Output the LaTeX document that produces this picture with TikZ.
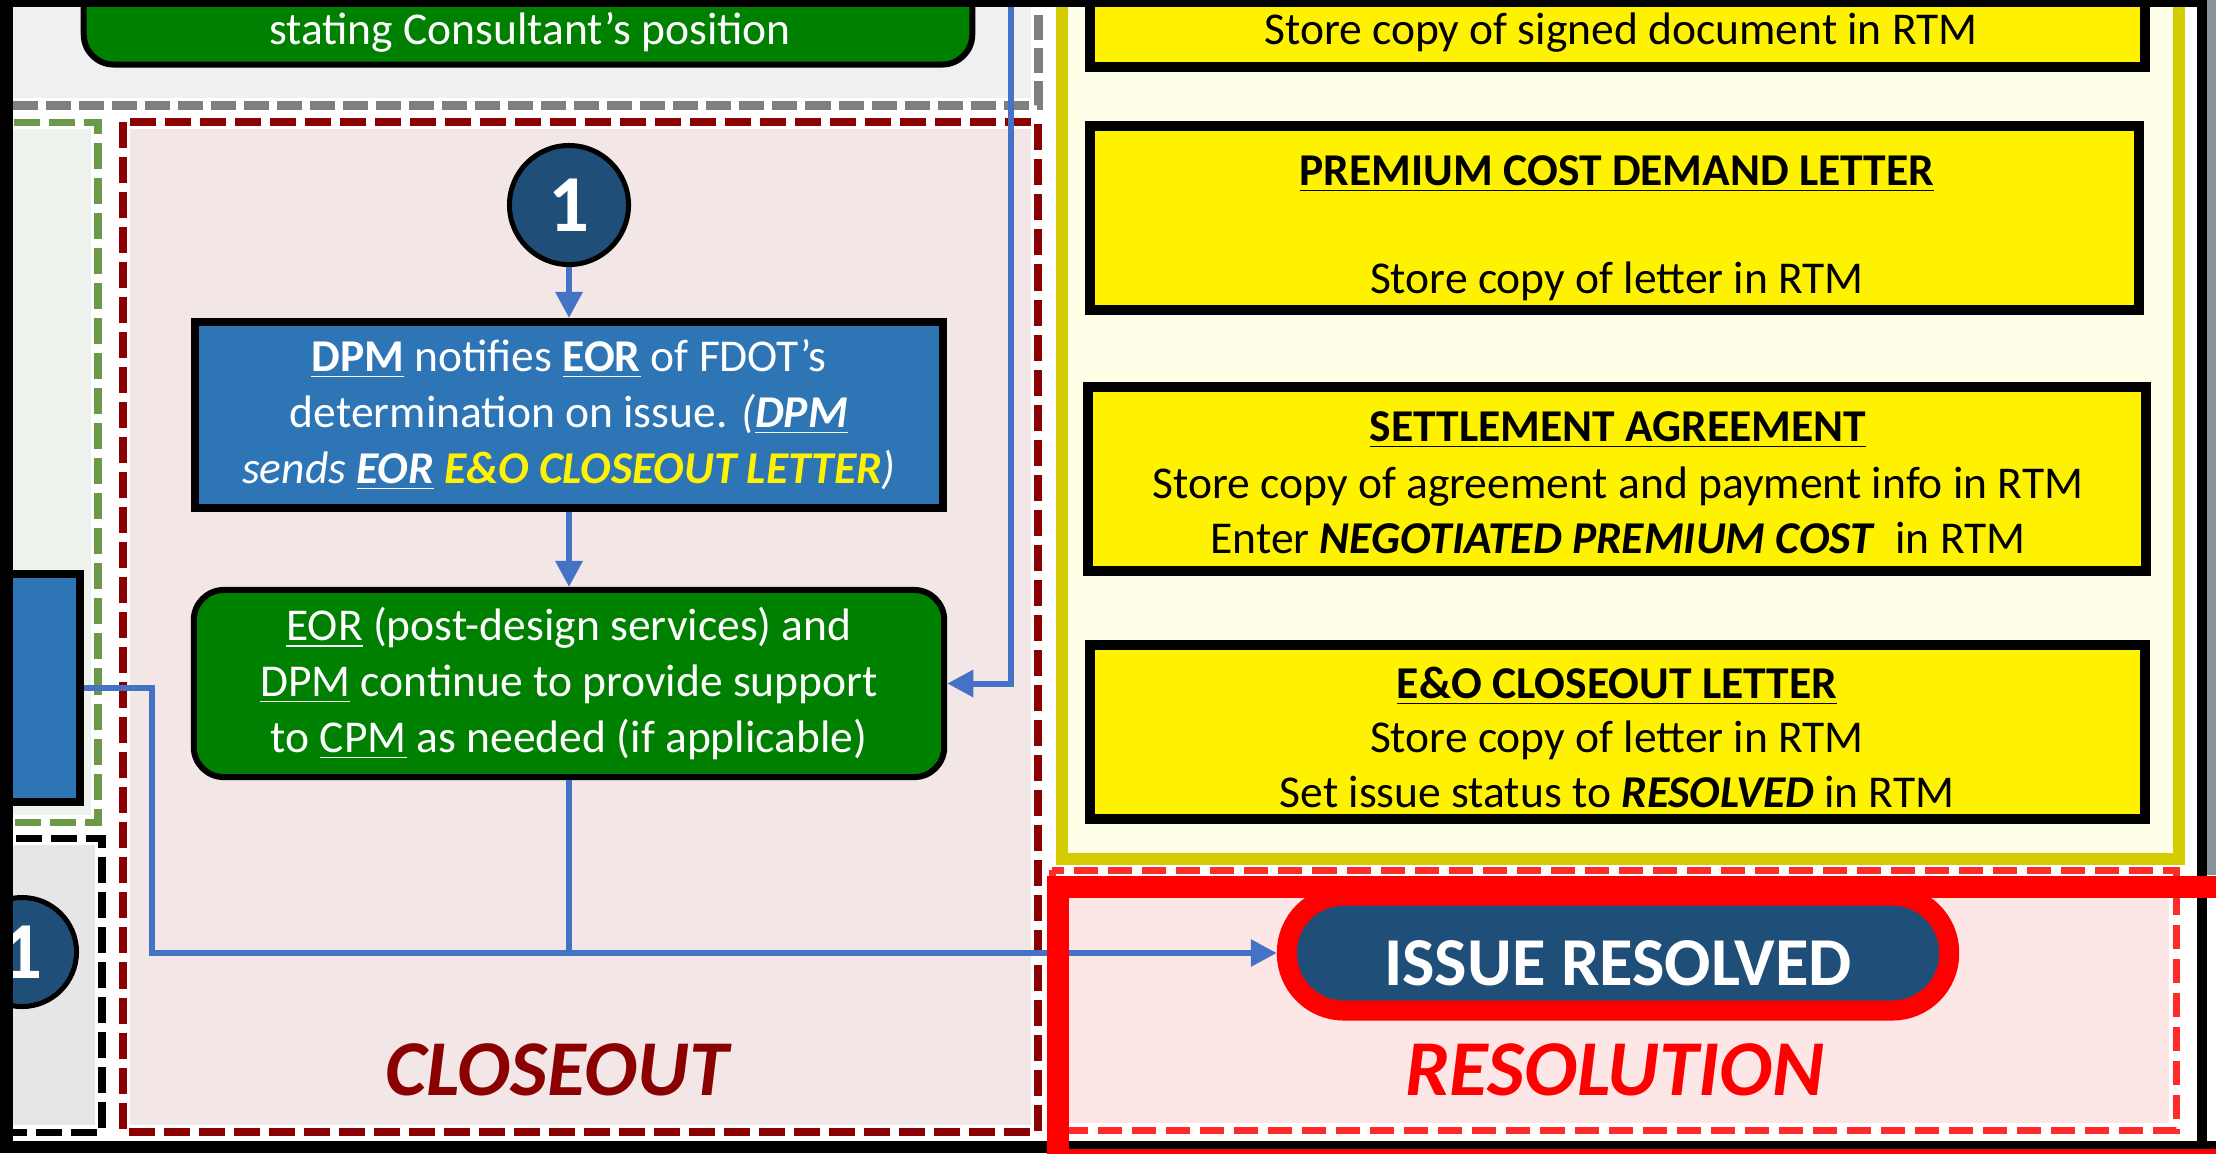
\documentclass[tikz,border=0pt]{standalone}
\usepackage{fontspec}
\setmainfont{Carlito}
\usetikzlibrary{arrows.meta}

\definecolor{flowblue}{HTML}{4472C4}
\definecolor{boxblue}{HTML}{2E75B6}
\definecolor{navy}{HTML}{1F4E79}
\definecolor{okgreen}{HTML}{008000}
\definecolor{darkred}{HTML}{8B0000}
\definecolor{closebg}{HTML}{F2E6E6}
\definecolor{resbg}{HTML}{FDE6E6}
\definecolor{greenbg}{HTML}{EEF2EC}
\definecolor{topbg}{HTML}{F0F0F0}
\definecolor{graybg}{HTML}{E6E6E6}
\definecolor{panelbg}{HTML}{FFFFE8}
\definecolor{panelline}{HTML}{D4CC00}
\definecolor{dashgreen}{HTML}{6A9A48}
\definecolor{dashgray}{HTML}{7F7F7F}
\definecolor{resred}{HTML}{FF2A2A}
\definecolor{edgegray}{HTML}{8A9399}

\tikzset{
  bodyfont/.style={font=\fontsize{12.95}{15.9}\selectfont},
  flow/.style={draw=flowblue, line width=0.06cm},
  flowarrow/.style={flow, -{Triangle[length=0.26cm,width=0.26cm]}},
  whiteunder/.style={draw=white, line width=0.14cm},
  closeframe/.style={draw=darkred, line width=0.08cm, dash pattern=on 0.26cm off 0.09cm},
  greenframe/.style={draw=dashgreen, line width=0.07cm, dash pattern=on 0.26cm off 0.09cm},
  blackframe/.style={draw=black, line width=0.07cm, dash pattern=on 0.26cm off 0.09cm},
  grayframe/.style={draw=dashgray, line width=0.09cm, dash pattern=on 0.25cm off 0.08cm},
  resframe/.style={draw=resred, line width=0.07cm, dash pattern=on 0.24cm off 0.1cm},
  numcircle/.style={circle, draw=black, line width=0.05cm, fill=navy, text=white,
    font=\fontsize{23}{23}\selectfont\bfseries, inner sep=0pt},
  actionbox/.style={rectangle, draw=black, line width=0.08cm, fill=boxblue, text=white,
    align=center, inner sep=0pt, bodyfont},
  supportbox/.style={rectangle, rounded corners=0.3cm, draw=black, line width=0.06cm,
    fill=okgreen, text=white, align=center, inner sep=0pt, bodyfont},
  letterbox/.style={rectangle, draw=black, line width=0.1cm, fill=yellow, inner sep=0pt},
  lettertext/.style={bodyfont, anchor=base, text=black, inner sep=0pt},
  phase/.style={font=\fontsize{22.5}{27}\selectfont\bfseries\itshape, anchor=base, inner sep=0pt},
  pill/.style={rectangle, rounded corners=0.57cm, draw=red, line width=0.2cm, fill=navy,
    text=white, font=\fontsize{19.5}{20}\selectfont\bfseries,
    minimum width=6.62cm, minimum height=1.15cm, inner sep=0pt},
}

\begin{document}
\begin{tikzpicture}[x=0.01cm, y=-0.01cm]
  \useasboundingbox (0,0) rectangle (2216,1153);
  \clip (0,0) rectangle (2216,1153);
  \fill[white] (0,0) rectangle (2216,1153);

  % region backgrounds
  \fill[topbg] (0,-20) rectangle (1038,105);
  \fill[greenbg] (-20,122) rectangle (98,822);
  \fill[graybg] (-20,838) rectangle (102,1132);
  \fill[closebg] (123,122) rectangle (1038,1132);
  \fill[resbg] (1052,870) rectangle (2176,1130);

  % dashed region frames
  \draw[whiteunder] (-20,105) -- (1038,105) -- (1038,-20);
  \draw[grayframe] (-20,105) -- (1038,105) -- (1038,-20);
  \draw[whiteunder] (-20,122) rectangle (98,822);
  \draw[greenframe] (-20,122) rectangle (98,822);
  \draw[whiteunder] (-20,838) rectangle (102,1132);
  \draw[blackframe] (-20,838) rectangle (102,1132);
  \draw[whiteunder] (123,122) rectangle (1038,1132);
  \draw[closeframe] (123,122) rectangle (1038,1132);
  \draw[whiteunder] (1052,870) rectangle (2176,1130);
  \draw[resframe] (1052,870) rectangle (2176,1130);

  % document panel
  \draw[panelline, fill=panelbg, line width=0.12cm] (1062,-30) rectangle (2179,859);

  % document boxes
  \node[letterbox, minimum width=10.55cm, minimum height=1.17cm] (docsigned) at (1617.5,8.5) {};
  \node[lettertext] (docsignedtxt) at (1621,44) {Store copy of signed document in RTM};

  \node[letterbox, minimum width=10.49cm, minimum height=1.84cm] (demand) at (1614.5,218) {};
  \node[lettertext] (demandttl) at (1617,185) {\bfseries\underline{PREMIUM COST DEMAND LETTER}};
  \node[lettertext] (demandtxt) at (1617,293) {Store copy of letter in RTM};

  \node[letterbox, minimum width=10.58cm, minimum height=1.84cm] (settle) at (1617,479) {};
  \node[lettertext] (settlettl) at (1618,441) {\bfseries\underline{SETTLEMENT AGREEMENT}};
  \node[lettertext] (settletxta) at (1618,498) {Store copy of agreement and payment info in RTM};
  \node[lettertext] (settletxtb) at (1618,553) {Enter \textbf{\textit{NEGOTIATED PREMIUM COST}}\ \ in RTM};

  \node[letterbox, minimum width=10.55cm, minimum height=1.74cm] (closeletter) at (1617.5,732) {};
  \node[lettertext] (closettl) at (1617,698) {\bfseries\underline{E\&O CLOSEOUT LETTER}};
  \node[lettertext] (closetxta) at (1617,752) {Store copy of letter in RTM};
  \node[lettertext] (closetxtb) at (1617,807) {Set issue status to \textbf{\textit{RESOLVED}} in RTM};

  % top process box (continued from above)
  \node[supportbox, minimum width=8.88cm, minimum height=1.25cm] (posbox) at (528,2) {};
  \node[lettertext, text=white] (postxt) at (530,44) {stating Consultant’s position};

  % left-hand neighbours
  \node[actionbox, minimum width=1.0cm, minimum height=2.28cm] (leftbox) at (30,688) {};
  \node[numcircle, minimum size=1.09cm] (cleft) at (22,952) {1};

  % closeout flow
  \node[numcircle, minimum size=1.19cm] (cone) at (569,205) {1};
  \node[actionbox, minimum width=7.48cm, minimum height=1.86cm] (dpmbox) at (569,415)
    {{\bfseries\underline{DPM}} notifies {\bfseries\underline{EOR}} of FDOT’s\\
     determination on issue. {\itshape(\bfseries\underline{DPM}}\\
     {\itshape sends {\bfseries\underline{EOR}} {\bfseries\color{yellow}E\&O CLOSEOUT LETTER})}};
  \node[supportbox, minimum width=7.5cm, minimum height=1.87cm] (eorbox) at (569,683.5)
    {\underline{EOR} (post-design services) and\\
     \underline{DPM} continue to provide support\\
     to \underline{CPM} as needed (if applicable)};

  \node[pill] (resolved) at (1618,953) {\raisebox{-0.1cm}[\height][0pt]{ISSUE RESOLVED}};

  % connectors
  \coordinate (topin) at (1011,-20);
  \coordinate (joint) at (152,953);
  \draw[flowarrow] (cone.south) -- (dpmbox.north);
  \draw[flowarrow] (dpmbox.south) -- (eorbox.north);
  \draw[flowarrow] (topin) |- (eorbox.east);
  \draw[flow] (eorbox.south) -- (eorbox.south |- joint);
  \draw[flowarrow] (leftbox.east) -| (joint) -- (resolved.west);

  % phase labels
  \node[phase, text=darkred] (closeoutlbl) at (557,1095) {CLOSEOUT};
  \node[phase, text=red] (resolutionlbl) at (1615,1095) {RESOLUTION};

  % outer frame
  \fill[black] (0,0) rectangle (13,1153);
  \fill[black] (0,0) rectangle (2216,7);
  \fill[black] (0,1141) rectangle (2216,1153);
  \fill[black] (2197,0) rectangle (2207,1153);
  \fill[edgegray] (2207,0) rectangle (2216,875);

  % highlight round the resolution area
  \draw[red, line width=0.22cm] (1057.5,886.5) rectangle (2230,1160);
\end{tikzpicture}
\end{document}
